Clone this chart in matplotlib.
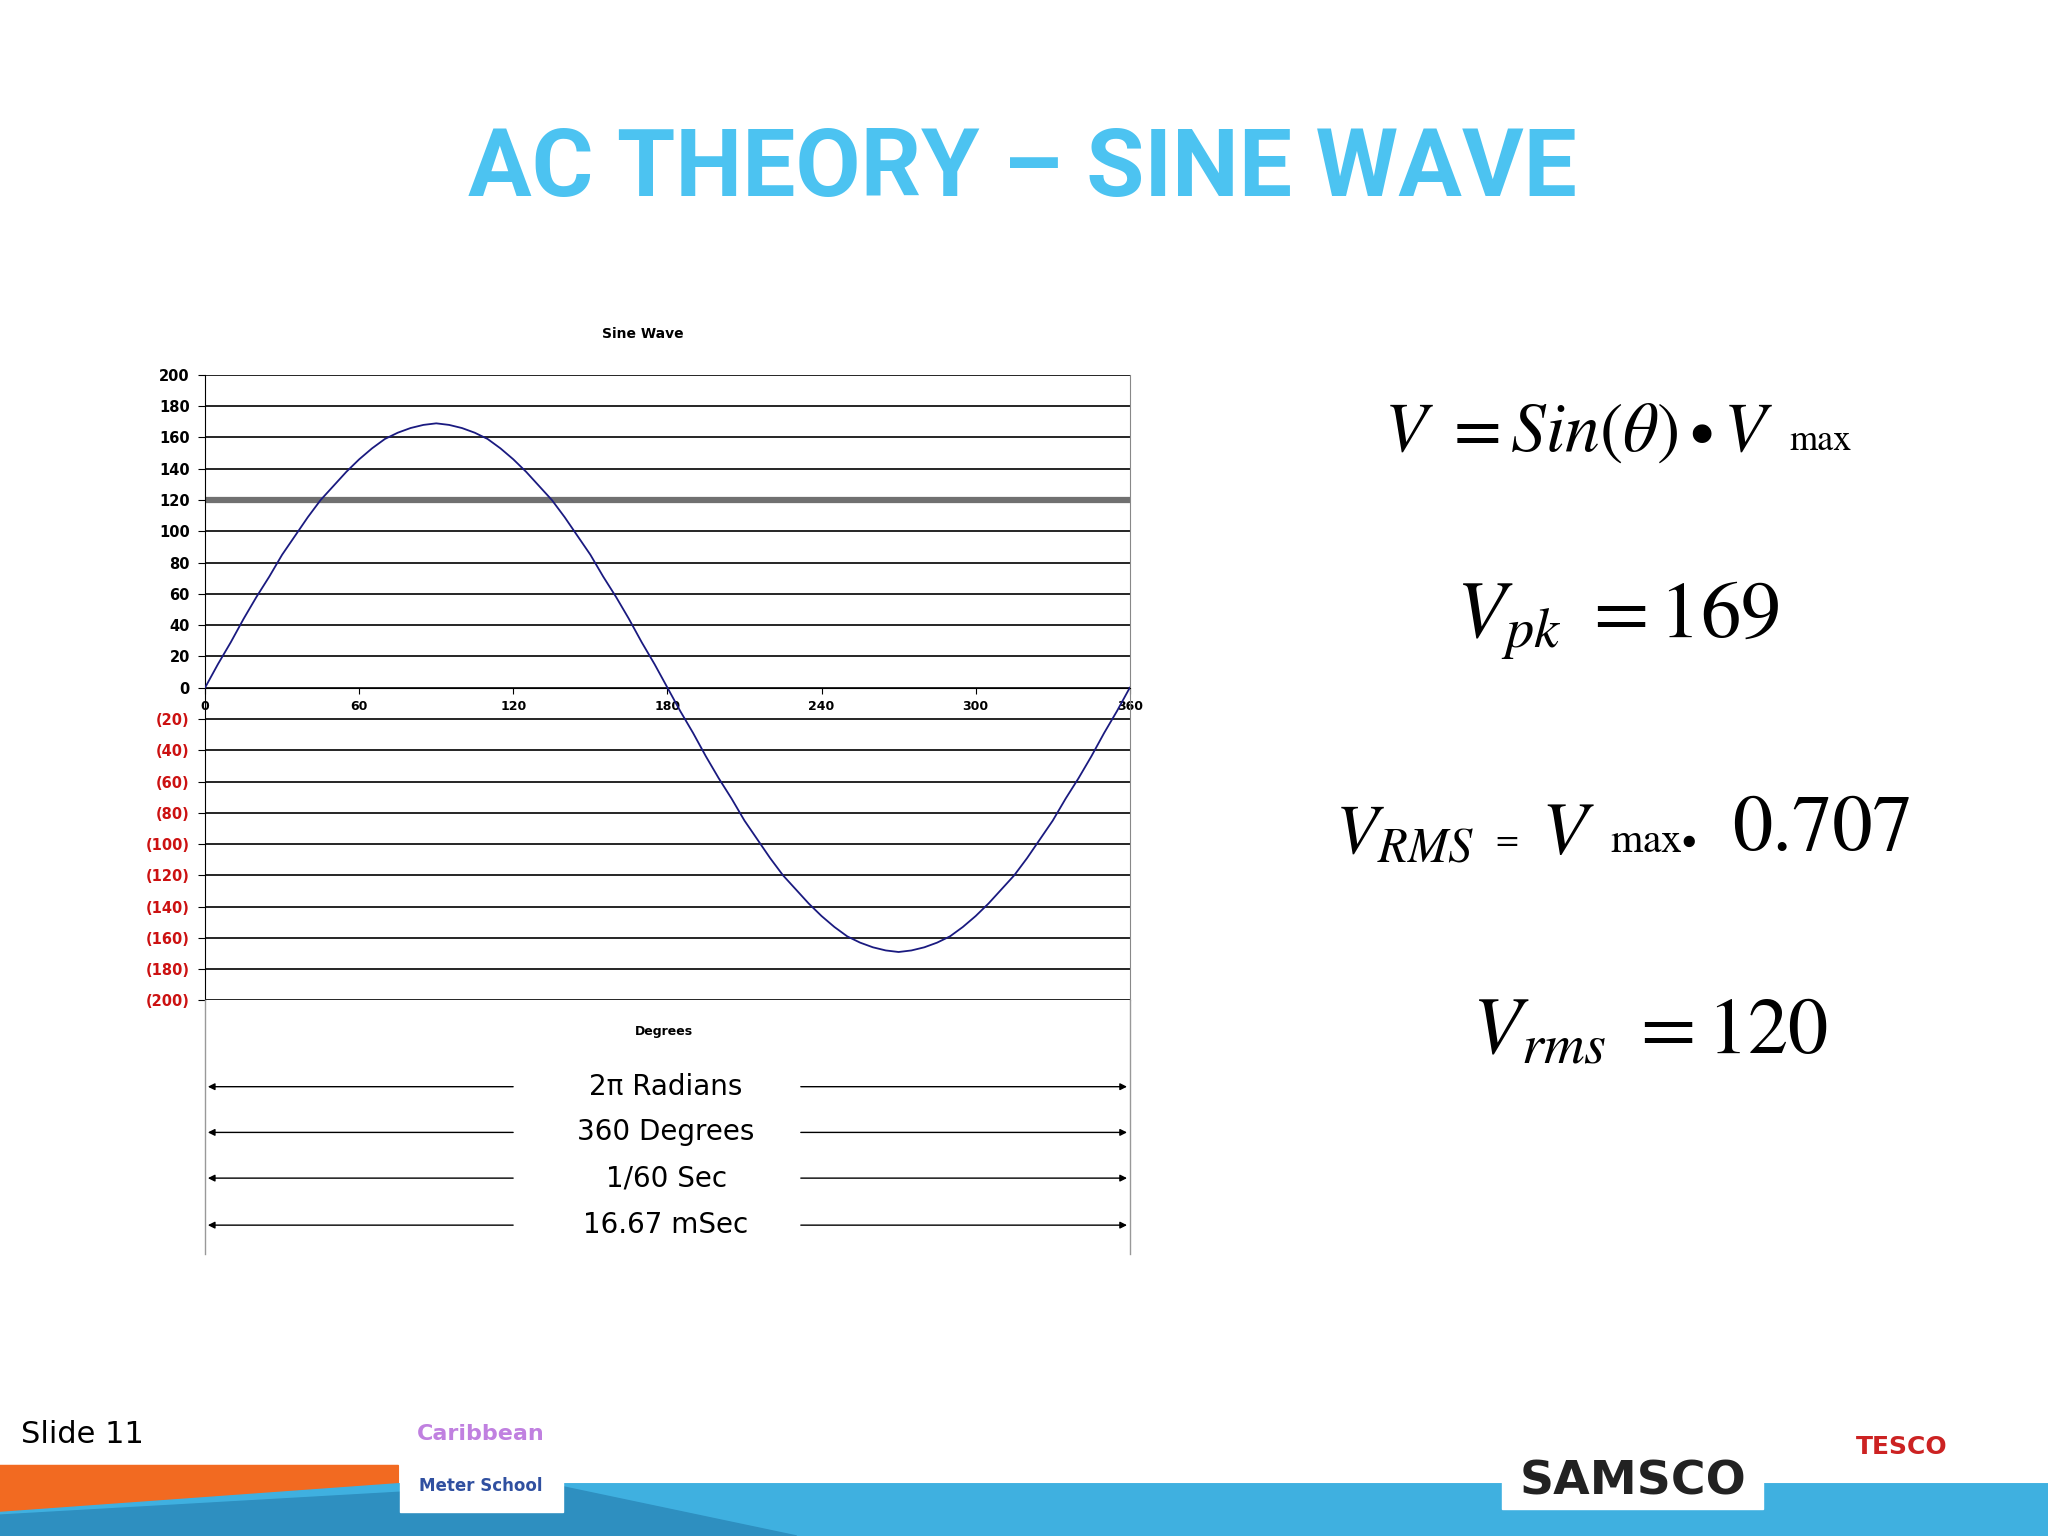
import matplotlib.pyplot as plt
from matplotlib.patches import Polygon

# sine wave, every 5 degrees
degrees = list(range(0, 361, 5))
rise = [0, 15, 29, 44, 58, 71, 85, 97, 109, 120, 129, 138, 146, 153, 159, 163, 166, 168, 169]
half = rise + rise[-2::-1]
volts = half + [-v for v in half[1:]]
rms_level = 120
y_ticks = list(range(-200, 201, 20))
x_ticks = [0, 60, 120, 180, 240, 300, 360]
span_labels = ["2π Radians", "360 Degrees", "1/60 Sec", "16.67 mSec"]
span_rows = [832, 867, 902, 938]

W, H = 1568, 1176
def fx(x): return x / W
def fy(y): return 1 - y / H

plt.rcParams['mathtext.fontset'] = 'stix'
fig = plt.figure(figsize=(20.48, 15.36), dpi=100)
fig.patch.set_facecolor('white')

fig.text(fx(783), fy(130), "AC THEORY – SINE WAVE", ha='center', va='center', fontsize=68,
         fontweight='bold', color='#4cc3f1', family=['Roboto', 'DejaVu Sans'])

ax = fig.add_axes([fx(157), fy(766), fx(865) - fx(157), fy(287) - fy(766)])
for v in y_ticks:
    ax.axhline(v, color='black', lw=1.2, zorder=1)
ax.axhline(rms_level, color='#707070', lw=4.5, zorder=2)
ax.plot(degrees, volts, color='#1a1a80', lw=1.3, zorder=3)
ax.set_xlim(0, 360)
ax.set_ylim(-200, 200)
ax.spines['bottom'].set_position(('data', 0))
ax.spines['top'].set_visible(False)
ax.spines['right'].set_color('#888888')
ax.set_xticks(x_ticks)
ax.set_xticklabels([str(x) for x in x_ticks], fontsize=9, fontweight='bold')
ax.tick_params(axis='x', length=4, pad=5)
ax.set_yticks(y_ticks)
ax.set_yticklabels([str(v) if v >= 0 else f"({-v})" for v in y_ticks], fontsize=10.5, fontweight='bold')
for lab, v in zip(ax.get_yticklabels(), y_ticks):
    if v < 0:
        lab.set_color('#cc1111')
ax.tick_params(axis='y', length=5, pad=6)
fig.text(fx(492), fy(256), "Sine Wave", ha='center', va='center', fontsize=10, fontweight='bold')

fig.text(fx(508), fy(790), "Degrees", ha='center', va='center', fontsize=9, fontweight='bold')

# bracket lines and span arrows
for x in (157, 865):
    fig.add_artist(plt.Line2D([fx(x), fx(x)], [fy(766), fy(960)], color='#999999', lw=1))
for y, lab in zip(span_rows, span_labels):
    fig.text(fx(510), fy(y), lab, ha='center', va='center', fontsize=20)
    ax.annotate('', xy=(fx(157), fy(y)), xytext=(fx(395), fy(y)), xycoords='figure fraction',
                arrowprops=dict(arrowstyle='-|>', color='black', lw=1))
    ax.annotate('', xy=(fx(865), fy(y)), xytext=(fx(611), fy(y)), xycoords='figure fraction',
                arrowprops=dict(arrowstyle='-|>', color='black', lw=1))

# equations
fig.text(fx(1060), fy(330), r"$V\ =Sin(\theta)\bullet V$", ha='left', va='center', fontsize=50)
fig.text(fx(1370), fy(338), "max", ha='left', va='center', fontsize=26, family='STIXGeneral')
fig.text(fx(1115), fy(475), r"$V_{pk}\ =169$", ha='left', va='center', fontsize=58)
fig.text(fx(1022), fy(638), r"$V_{RMS}$", ha='left', va='center', fontsize=50)
fig.text(fx(1145), fy(645), "=", ha='left', va='center', fontsize=24, family='STIXGeneral')
fig.text(fx(1180), fy(638), r"$V$", ha='left', va='center', fontsize=54)
fig.text(fx(1233), fy(645), r"max$\bullet$", ha='left', va='center', fontsize=30, family='STIXGeneral')
fig.text(fx(1326), fy(636), "0.707", ha='left', va='center', fontsize=58, family='STIXGeneral')
fig.text(fx(1127), fy(790), r"$V_{rms}\ =120$", ha='left', va='center', fontsize=58)

# footer
fig.text(fx(16), fy(1098), "Slide 11", ha='left', va='center', fontsize=22)
fig.add_artist(Polygon([[0, fy(1122)], [fx(305), fy(1122)], [fx(305), fy(1150)], [0, fy(1158)]],
                       closed=True, color='#f26a21', transform=fig.transFigure))
fig.add_artist(Polygon([[0, 0], [0, fy(1158)], [fx(305), fy(1136)], [1, fy(1136)], [1, 0]],
                       closed=True, color='#3fb0e0', transform=fig.transFigure))
fig.add_artist(Polygon([[0, 0], [0, fy(1160)], [fx(420), fy(1136)], [fx(610), 0]],
                       closed=True, color='#2e8fc0', transform=fig.transFigure))
fig.add_artist(plt.Rectangle((fx(306), fy(1158)), fx(125), fy(1075) - fy(1158),
                             color='white', transform=fig.transFigure))
fig.text(fx(368), fy(1098), "Caribbean", ha='center', va='center', fontsize=16, color='#c080e0', fontweight='bold')
fig.text(fx(368), fy(1138), "Meter School", ha='center', va='center', fontsize=12, color='#3050a0', fontweight='bold')
fig.add_artist(plt.Rectangle((fx(1150), fy(1155)), fx(200), fy(1110) - fy(1155),
                             color='white', transform=fig.transFigure))
fig.text(fx(1250), fy(1135), "SAMSCO", ha='center', va='center', fontsize=34, fontweight='bold', color='#222222')
fig.text(fx(1456), fy(1108), "TESCO", ha='center', va='center', fontsize=18, color='#cc2222', fontweight='bold')

fig.savefig("out.png", dpi=100)
